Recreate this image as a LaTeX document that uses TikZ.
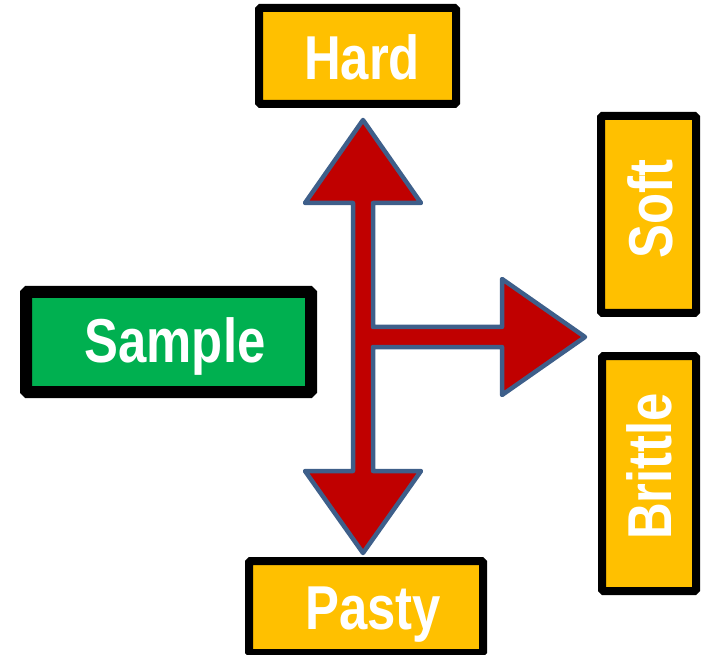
\documentclass[tikz,border=0pt]{standalone}
\usepackage{fontspec}
\newfontfamily\labelfont[FakeStretch=0.82]{Liberation Sans Bold}
\definecolor{boxgold}{HTML}{FFC000}
\definecolor{boxgreen}{HTML}{00B050}
\definecolor{arrowred}{HTML}{C00000}
\definecolor{arrowedge}{HTML}{3E5F8A}
\tikzset{
  goldbox/.style={draw=black, fill=boxgold, line width=8pt, rounded corners=1.5pt, inner sep=0pt},
  greenbox/.style={draw=black, fill=boxgreen, line width=12pt, rounded corners=1.5pt, inner sep=0pt},
  boxtext/.style={text=white, font=\labelfont\fontsize{62}{62}\selectfont, inner sep=0pt, anchor=base},
  bigarrow/.style={fill=arrowred, draw=arrowedge, line width=4.5pt, line join=round}
}
\begin{document}
\begin{tikzpicture}[x=1pt, y=-1pt]
\useasboundingbox (0,0) rectangle (702,655);
% boxes
\node[goldbox, minimum width=197pt, minimum height=96pt] (hard) at (357.5,56) {};
\node[greenbox, minimum width=285pt, minimum height=100pt] (sample) at (168.5,342) {};
\node[goldbox, minimum width=95pt, minimum height=197pt] (soft) at (648.5,214.5) {};
\node[goldbox, minimum width=94pt, minimum height=235pt] (brittle) at (649,473.5) {};
\node[goldbox, minimum width=234pt, minimum height=92pt] (pasty) at (366,607) {};
% texts
\node[boxtext] (hardt) at (362,80) {Hard};
\node[boxtext] (samplet) at (175,362) {Sample};
\node[boxtext] (pastyt) at (373,629) {Pasty};
\node[boxtext, rotate=90] (softt) at (672,209) {Soft};
\node[boxtext, rotate=90] (brittlet) at (671,466.5) {Brittle};
% three-way arrow
\coordinate (uptip) at (363,120);
\coordinate (righttip) at (585,337);
\coordinate (downtip) at (363,553);
\draw[bigarrow] (uptip) -- (421,203) -- (373,203) -- (373,327) -- (502,327) -- (502,279)
  -- (righttip) -- (502,395) -- (502,347) -- (373,347) -- (373,471) -- (421,471)
  -- (downtip) -- (305,471) -- (353,471) -- (353,203) -- (305,203) -- cycle;
\end{tikzpicture}
\end{document}
